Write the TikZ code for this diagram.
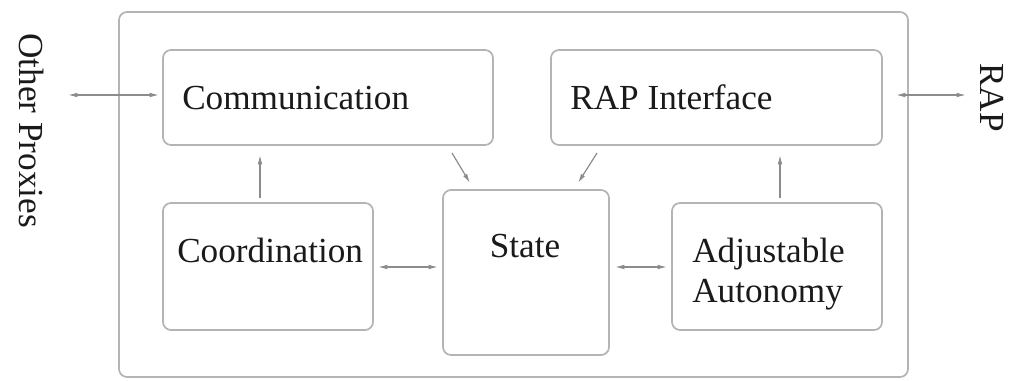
\documentclass[tikz,border=0pt]{standalone}
\usepackage{fontspec}
\setmainfont{Liberation Serif}
\usetikzlibrary{calc,arrows.meta}
\definecolor{boxgray}{HTML}{B4B4B4}
\definecolor{arrgray}{HTML}{8C8C8C}
\definecolor{txt}{HTML}{1A1A1A}
\begin{document}
\begin{tikzpicture}[x=0.75pt,y=-0.75pt,
  box/.style={draw=boxgray, line width=1.3pt, rounded corners=6pt, inner sep=0pt, outer sep=0pt},
  lbl/.style={anchor=base west, inner sep=0pt, text=txt, font=\fontsize{26.4}{30}\selectfont},
  side/.style={lbl, rotate=-90},
  arr/.style={draw=arrgray, line width=0.9pt, -{Latex[length=7pt,width=3.5pt]}},
  biarr/.style={draw=arrgray, line width=0.9pt, {Latex[length=7pt,width=3.5pt]}-{Latex[length=7pt,width=3.5pt]}}]
\useasboundingbox (0,0) rectangle (1009,380);
% outer frame
\node[box, minimum width=591.75pt, minimum height=273.75pt] (outer) at (513.5,194.5) {};
% boxes
\node[box, minimum width=247.5pt, minimum height=71.25pt] (comm) at (328,97.5) {};
\node[box, minimum width=248.25pt, minimum height=71.25pt] (rapi) at (716.5,97.5) {};
\node[box, minimum width=157.5pt, minimum height=95.25pt] (coord) at (268,266.5) {};
\node[box, minimum width=124.5pt, minimum height=123.75pt] (state) at (526,272.5) {};
\node[box, minimum width=157.5pt, minimum height=95.25pt] (adj) at (777,266.5) {};
% texts
\node[lbl] (tcomm) at (182,109) {Communication};
\node[lbl] (trapi) at (570,109) {RAP Interface};
\node[lbl] (tcoord) at (177,262) {Coordination};
\node[lbl, anchor=base] (tstate) at (525,257) {State};
\node[lbl] (tadj1) at (692,262) {Adjustable};
\node[lbl] (tadj2) at (692,302) {Autonomy};
\node[side] (other) at (19,33) {Other Proxies};
\node[side] (rap) at (980,63) {RAP};
% free ends
\coordinate (op) at (68,95);
\coordinate (rp) at (966,95);
% connectors
\draw[biarr] (op) -- ($(comm.west)+(-4,-2.5)$);
\draw[biarr] ($(rapi.east)+(14,-2.5)$) -- (rp);
\draw[arr] ($(coord.north)+(-8,-5)$) -- ($(comm.south)+(-68,10)$);
\draw[arr] ($(adj.north)+(3,-5)$) -- ($(rapi.south)+(63.5,10)$);
\draw[arr] ($(comm.south)+(124,8)$) -- ($(state.north)+(-56,-7)$);
\draw[arr] ($(rapi.south)+(-119.5,8)$) -- ($(state.north)+(52,-7)$);
\draw[biarr] ($(coord.east)+(5,0.5)$) -- ($(state.west)+(-5,-5.5)$);
\draw[biarr] ($(state.east)+(6,-5.5)$) -- ($(adj.west)+(-5,0.5)$);
\end{tikzpicture}
\end{document}
